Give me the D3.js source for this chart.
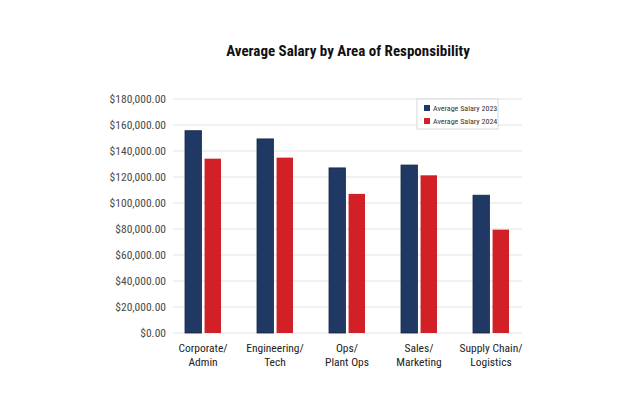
<!DOCTYPE html>
<html><head><meta charset="utf-8">
<script src="https://cdn.jsdelivr.net/npm/d3@7"></script>
<style>
body{margin:0;background:#fff;}
text{font-family:"Roboto Condensed","DejaVu Sans Condensed","Liberation Sans Narrow",Roboto,sans-serif;}
</style></head>
<body><svg id="c" width="640" height="414"></svg>
<script>
const categories = [["Corporate/","Admin"],["Engineering/","Tech"],["Ops/","Plant Ops"],["Sales/","Marketing"],["Supply Chain/","Logistics"]];
const seriesNames = ["Average Salary 2023","Average Salary 2024"];
const salary2023 = [155600, 149300, 127000, 129200, 106000];
const salary2024 = [134100, 134900, 107000, 121300, 79500];
const yTicks = [0,20000,40000,60000,80000,100000,120000,140000,160000,180000];
const colors = ["#1f3864","#d22027"];

const svg = d3.select("#c");
const x0 = d3.scaleBand().domain(d3.range(categories.length)).range([167,527]);
const x1 = d3.scaleBand().domain([0,1]).range([x0.bandwidth()*0.25, x0.bandwidth()*0.75]).paddingInner(0.16);
const y = d3.scaleLinear().domain([0,180000]).range([333,99]);

// gridlines
svg.append("g").selectAll("line").data(yTicks).join("line")
  .attr("x1",173).attr("x2",522)
  .attr("y1",d=>y(d)).attr("y2",d=>y(d))
  .attr("stroke","#e3e3e3").attr("stroke-width",1);

// y axis labels
const yAxis = d3.axisLeft(y).tickValues(yTicks).tickSize(0).tickPadding(0)
  .tickFormat(d=>"$"+d3.format(",.2f")(d));
const ga = svg.append("g").attr("transform","translate(166,0)").call(yAxis);
ga.select(".domain").remove();
ga.selectAll("text").attr("fill","#4a4a4a").attr("font-size","11.5px");

// bars
const series = [salary2023, salary2024];
series.forEach((vals,si)=>{
  svg.append("g").selectAll("rect").data(vals).join("rect")
    .attr("x",(d,i)=>x0(i)+x1(si))
    .attr("width",x1.bandwidth())
    .attr("y",d=>y(d))
    .attr("height",d=>y(0)-y(d))
    .attr("fill",colors[si])
    .attr("stroke",si===0?"#15284a":"none").attr("stroke-width",0.8);
});

// category labels
const gx = svg.append("g");
categories.forEach((c,i)=>{
  const t = gx.append("text").attr("text-anchor","middle")
    .attr("x",x0(i)+x0.bandwidth()/2).attr("y",352)
    .attr("font-size","11.5px").attr("fill","#222");
  c.forEach((line,k)=>t.append("tspan").attr("x",x0(i)+x0.bandwidth()/2).attr("dy",k===0?0:14).text(line));
});

// title
svg.append("text").attr("x",348).attr("y",56).attr("text-anchor","middle")
  .attr("font-size","15px").attr("font-weight","bold").attr("fill","#111")
  .text("Average Salary by Area of Responsibility");

// legend
const lg = svg.append("g");
lg.append("rect").attr("x",417).attr("y",99).attr("width",81).attr("height",30)
  .attr("fill","#fff").attr("stroke","#ccc").attr("stroke-width",0.8);
seriesNames.forEach((n,i)=>{
  lg.append("rect").attr("x",424).attr("y",105+i*13).attr("width",6).attr("height",6).attr("fill",colors[i]);
  lg.append("text").attr("x",433).attr("y",111+i*13).attr("font-size","8px").attr("fill","#333").text(n);
});
</script></body></html>
